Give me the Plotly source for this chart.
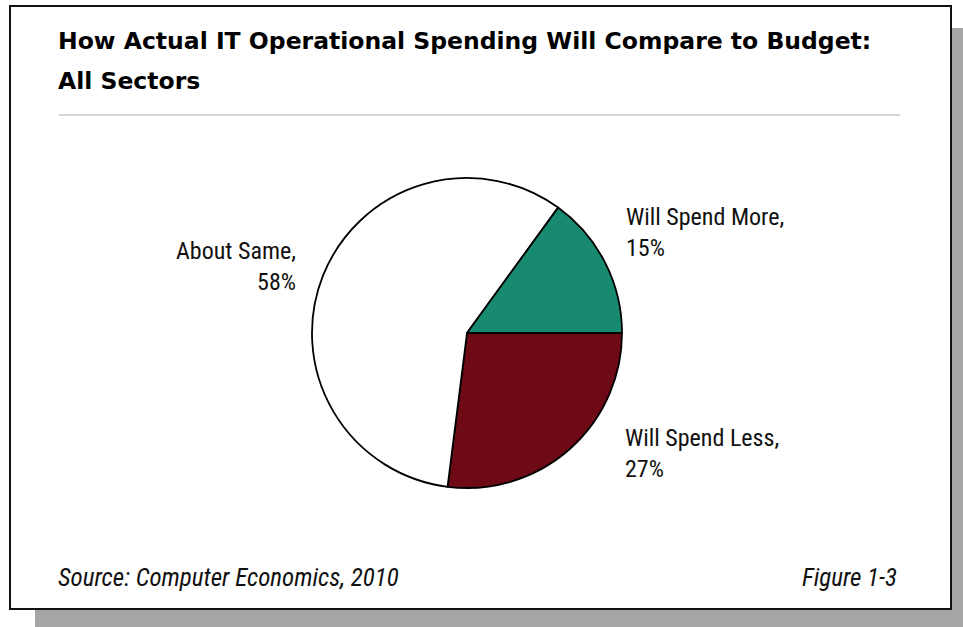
import plotly.graph_objects as go

W, H = 963, 627

# Survey results, listed clockwise starting from 3 o'clock
categories = ["Will Spend Less", "About Same", "Will Spend More"]
shares = [27, 58, 15]
slice_colors = ["#6d0a15", "#ffffff", "#178a70"]

title_lines = ["How Actual IT Operational Spending Will Compare to Budget:", "All Sectors"]
source_text = "Source: Computer Economics, 2010"
figure_tag = "Figure 1-3"

NARROW = "Liberation Sans Narrow, Arial Narrow, Roboto Condensed, sans-serif"
HEAVY = "DejaVu Sans, Arial, sans-serif"


def px(x):
    return x / W


def py(y):
    return 1 - y / H


# pie placement (pixels): centre and radius
cx, cy, r = 467, 333, 155

fig = go.Figure(
    go.Pie(
        labels=categories,
        values=shares,
        sort=False,
        direction="clockwise",
        rotation=90,
        marker=dict(colors=slice_colors, line=dict(color="#000000", width=1.8)),
        textinfo="none",
        hoverinfo="label+percent",
        showlegend=False,
        domain=dict(x=[px(cx - r), px(cx + r)], y=[py(cy + r), py(cy - r)]),
    )
)

shapes = [
    # drop shadow
    dict(type="rect", xref="paper", yref="paper", x0=px(35), x1=px(963), y0=py(627), y1=py(28),
         fillcolor="#a6a6a6", line=dict(width=0), layer="below"),
    # white panel with border
    dict(type="rect", xref="paper", yref="paper", x0=px(10), x1=px(951), y0=py(609), y1=py(6),
         fillcolor="#ffffff", line=dict(color="#111111", width=2), layer="below"),
    # rule under the title
    dict(type="line", xref="paper", yref="paper", x0=px(59), x1=px(900), y0=py(115), y1=py(115),
         line=dict(color="#d4d4d4", width=2)),
]

annotations = []
# title
for i, line in enumerate(title_lines):
    annotations.append(dict(
        text=f"<b>{line}</b>", xref="paper", yref="paper", x=px(56), y=py(41 + 40 * i),
        xanchor="left", yanchor="middle", showarrow=False,
        font=dict(family=HEAVY, size=23.5, color="#000000"),
    ))

# slice labels built from the data
label_pos = {
    "Will Spend More": dict(x=624, y=232, xanchor="left"),
    "About Same": dict(x=298, y=266, xanchor="right"),
    "Will Spend Less": dict(x=623, y=453, xanchor="left"),
}
for cat, val in zip(categories, shares):
    p = label_pos[cat]
    annotations.append(dict(
        text=f"{cat},<br>{val}%", xref="paper", yref="paper", x=px(p["x"]), y=py(p["y"]),
        xanchor=p["xanchor"], yanchor="middle", align=p["xanchor"], showarrow=False,
        font=dict(family=NARROW, size=24, color="#111111"),
    ))

annotations.append(dict(
    text=source_text, xref="paper", yref="paper", x=px(56), y=py(577),
    xanchor="left", yanchor="middle", showarrow=False,
    font=dict(family=NARROW, size=25, color="#111111", style="italic"),
))
annotations.append(dict(
    text=figure_tag, xref="paper", yref="paper", x=px(899), y=py(577),
    xanchor="right", yanchor="middle", showarrow=False,
    font=dict(family=NARROW, size=25, color="#111111", style="italic"),
))

fig.update_layout(
    width=W, height=H,
    margin=dict(l=0, r=0, t=0, b=0),
    paper_bgcolor="#ffffff",
    plot_bgcolor="#ffffff",
    shapes=shapes,
    annotations=annotations,
)

fig.write_html("out.html")
